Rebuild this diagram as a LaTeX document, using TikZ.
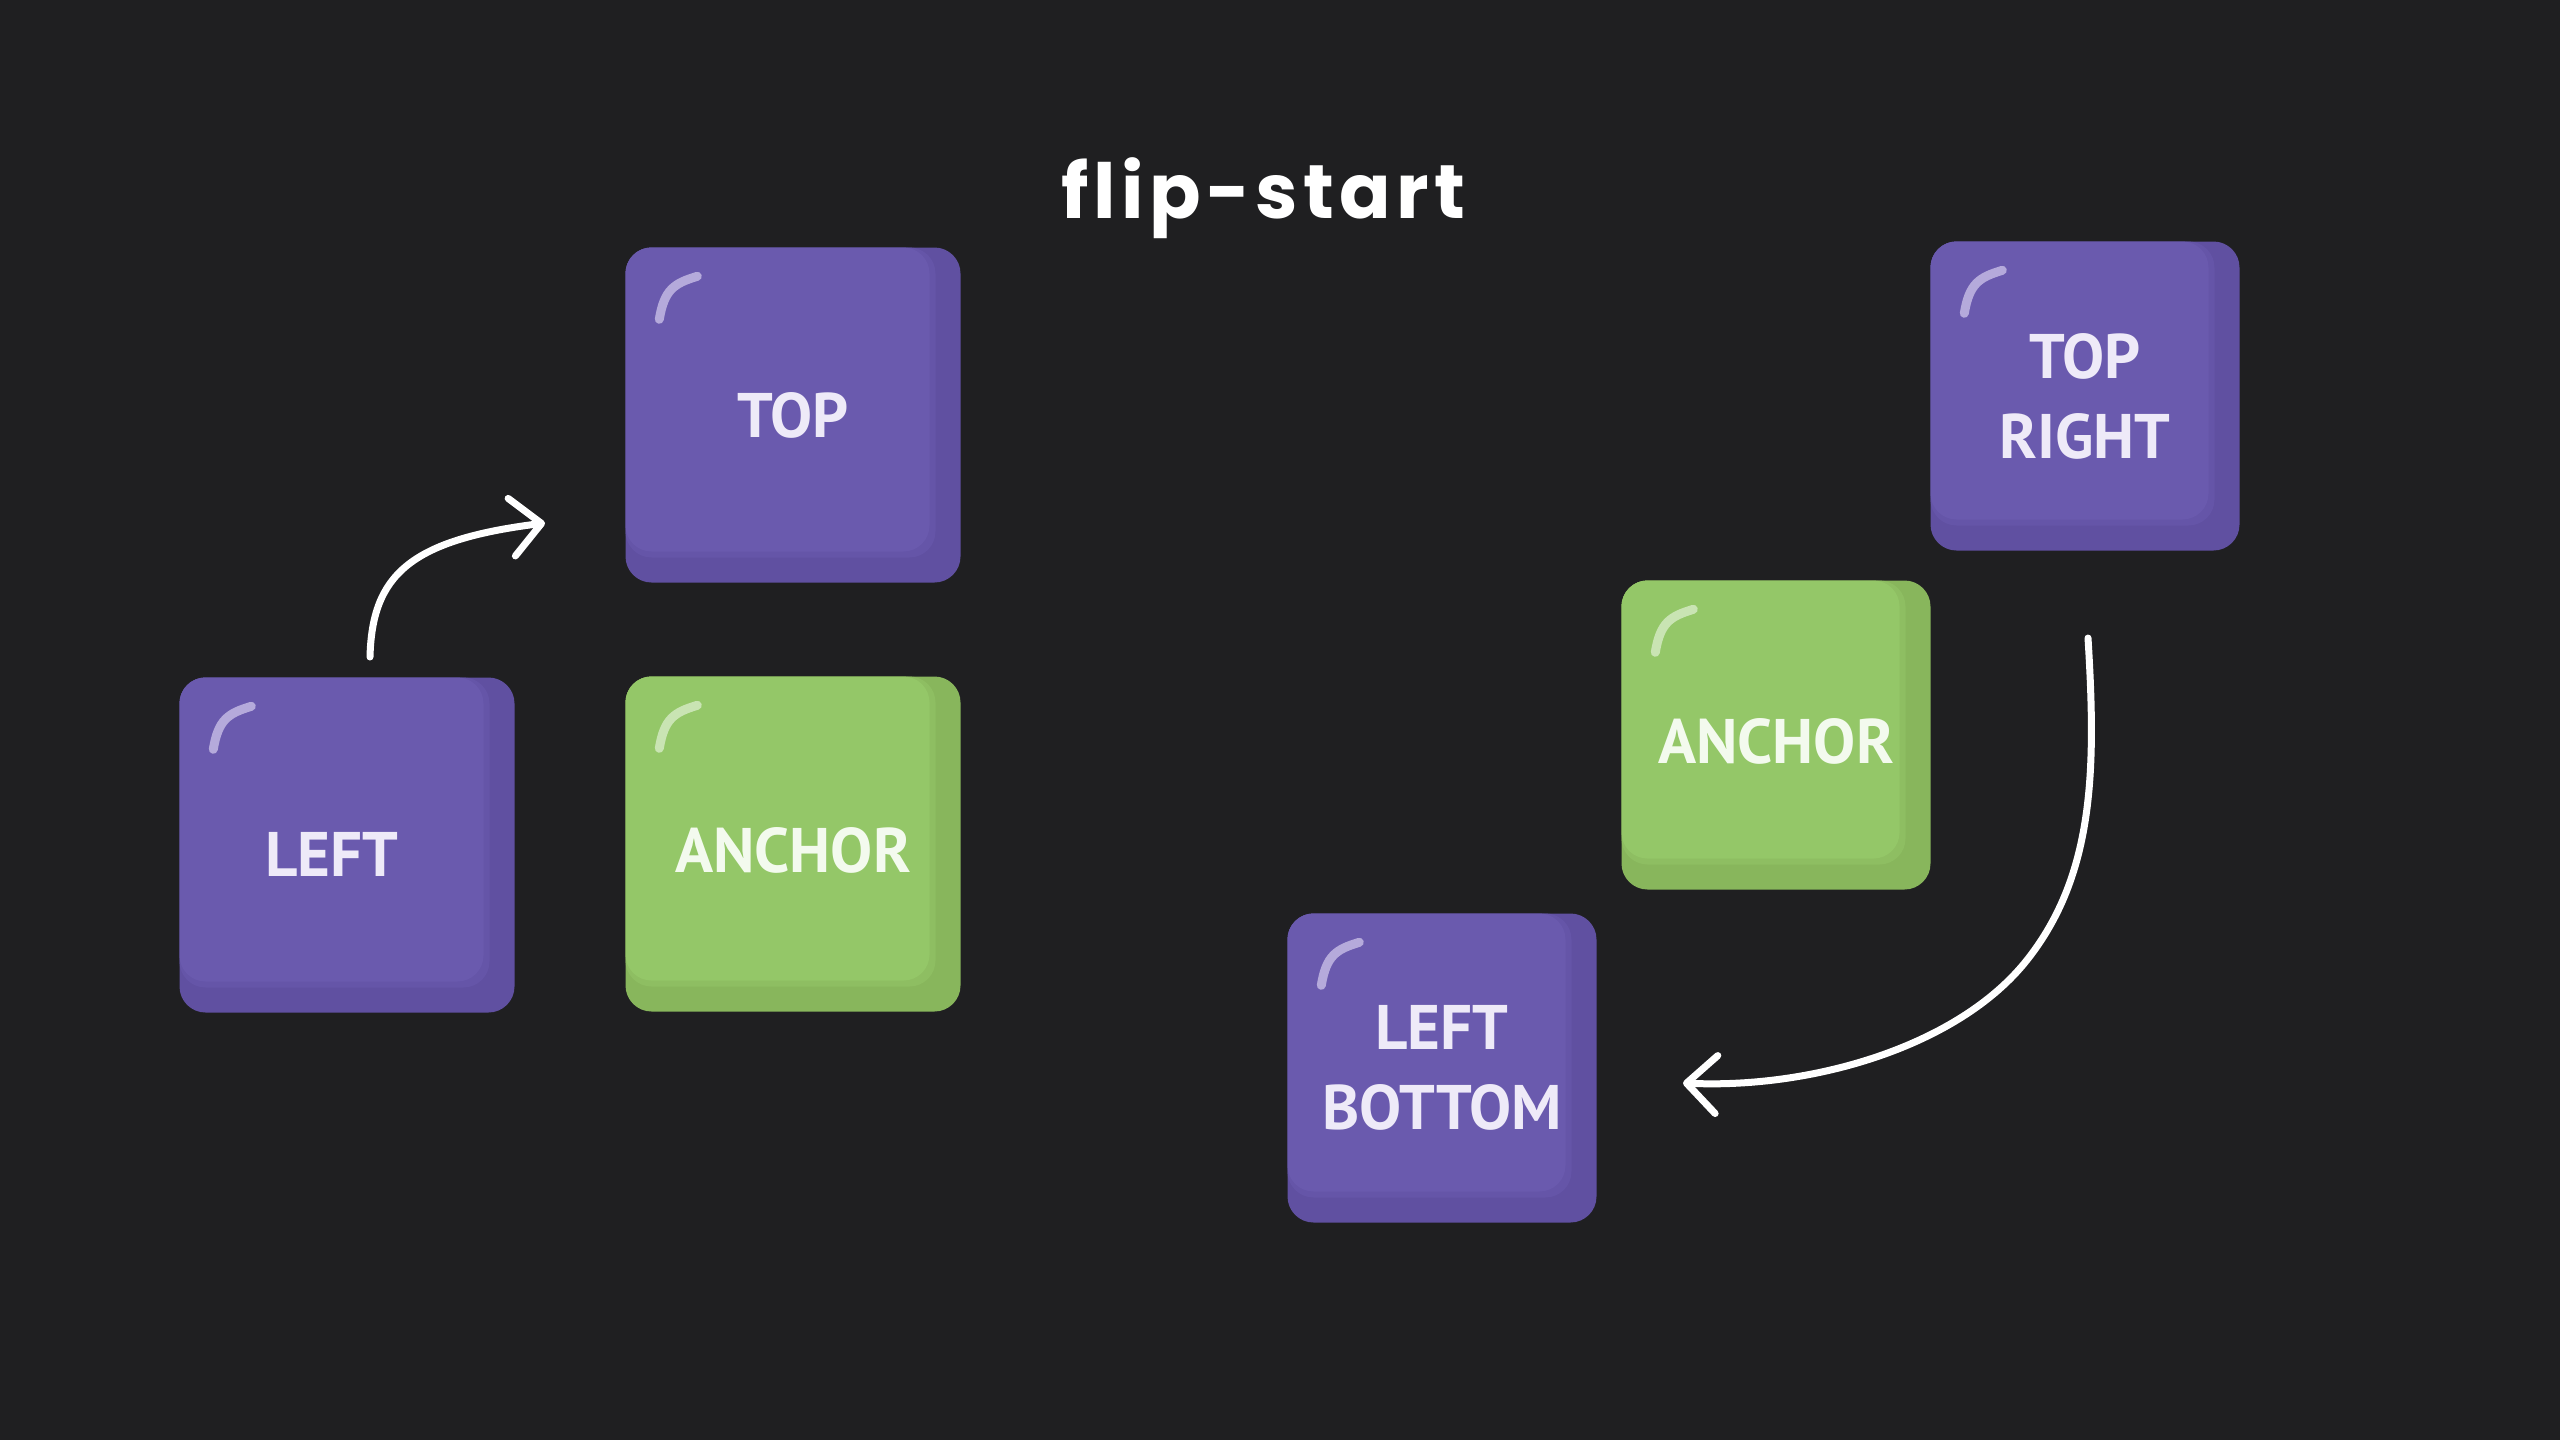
\documentclass[tikz,border=0pt]{standalone}
\usepackage{fontspec}
\setmainfont{PT Sans}
\newfontfamily\titlefont{Poppins}[LetterSpace=7]
\usetikzlibrary{arrows.meta}
\definecolor{bg}{HTML}{1F1F21}
\definecolor{pface}{HTML}{6A5AAE}
\definecolor{pmid}{HTML}{6555A8}
\definecolor{pdark}{HTML}{6050A1}
\definecolor{gface}{HTML}{94C768}
\definecolor{gmid}{HTML}{8EBE62}
\definecolor{gdark}{HTML}{88B65C}
\definecolor{ptext}{HTML}{EEEAF8}
\definecolor{gtext}{HTML}{F3FAEE}
\definecolor{phl}{HTML}{B5AADB}
\definecolor{ghl}{HTML}{C9E4B3}
\tikzset{
  keybox/.style n args={5}{rectangle, rounded corners=26pt, minimum width=#1, minimum height=#1,
    inner sep=0pt, fill=#4, align=center, text=#5,
    font=\bfseries\fontsize{63}{80}\selectfont,
    path picture={
      \fill[#3, rounded corners=26pt] (path picture bounding box.north west) rectangle
        ([xshift=-25pt,yshift=25pt]path picture bounding box.south east);
      \fill[#2, rounded corners=26pt] (path picture bounding box.north west) rectangle
        ([xshift=-31pt,yshift=31pt]path picture bounding box.south east);
    }},
  purplekey/.style={keybox={#1}{pface}{pmid}{pdark}{ptext}},
  greenkey/.style={keybox={#1}{gface}{gmid}{gdark}{gtext}},
  hl/.style={line width=9pt, line cap=round},
  conn/.style={draw=white, line width=7pt, line cap=round, line join=round,
    -{Straight Barb[length=30pt, width=58pt, line cap=round, line join=round]}},
}
\newcommand\gloss[2]{%
  \draw[hl, draw=#2] ([xshift=34pt,yshift=-72pt]#1.north west) .. controls
    ([xshift=39pt,yshift=-42pt]#1.north west) and ([xshift=49pt,yshift=-36pt]#1.north west) ..
    ([xshift=72pt,yshift=-29pt]#1.north west);}
\begin{document}
\begin{tikzpicture}[x=1pt,y=-1pt]
\fill[bg] (0,0) rectangle (2560,1440);
\useasboundingbox (0,0) rectangle (2560,1440);

\node[text=white, font=\titlefont\bfseries\fontsize{76}{76}\selectfont, anchor=base] (title) at (1263,218) {flip-start};

% left configuration
\node[purplekey=335pt] (top) at (793,415) {TOP};
\node[purplekey=335pt] (left) at (347,845) {\raisebox{0pt}[62pt][0pt]{LEFT}\hspace*{30pt}};
\node[greenkey=335pt] (anchorL) at (793,844) {\raisebox{0pt}[56pt][0pt]{ANCHOR}};
\gloss{top}{phl}
\gloss{left}{phl}
\gloss{anchorL}{ghl}

% right configuration
\node[purplekey=309pt] (topright) at (2085,396) {TOP\\RIGHT};
\node[greenkey=309pt] (anchorR) at (1776,735) {\raisebox{0pt}[56pt][0pt]{ANCHOR}};
\node[purplekey=309pt] (leftbottom) at (1442,1068) {LEFT\\BOTTOM};
\gloss{topright}{phl}
\gloss{anchorR}{ghl}
\gloss{leftbottom}{phl}

% connectors
\coordinate (a1s) at (370,657);
\coordinate (a1e) at (545,523);
\draw[conn] (a1s) .. controls (372,575) and (410,540) .. (a1e);
\coordinate (a2s) at (2088,638);
\coordinate (a2m) at (2027,960);
\coordinate (a2e) at (1683,1083);
\draw[conn] (a2s) .. controls (2096,768) and (2095,874) .. (a2m)
  .. controls (1959,1046) and (1813,1089) .. (a2e);
\end{tikzpicture}
\end{document}
